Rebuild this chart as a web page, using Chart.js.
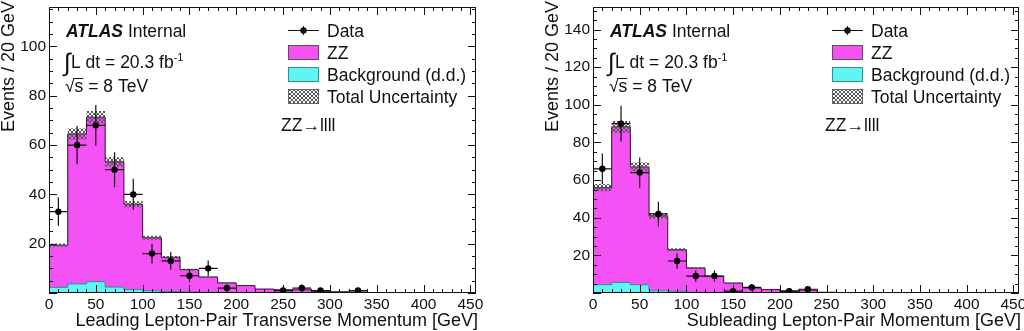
<!DOCTYPE html>
<html>
<head>
<meta charset="utf-8">
<script src="https://cdn.jsdelivr.net/npm/chart.js@4.4.1/dist/chart.umd.min.js"></script>
<style>
  html, body { margin: 0; padding: 0; background: #fff; }
  #wrap { position: relative; width: 1024px; height: 331px; }
  canvas { position: absolute; top: 0; }
</style>
</head>
<body>
<div id="wrap">
  <canvas id="leadChart" width="512" height="331" style="left:0"></canvas>
  <canvas id="subChart" width="512" height="331" style="left:512px"></canvas>
</div>
<script>
// 20 GeV bins
var binEdges = [0, 20, 40, 60, 80, 100, 120, 140, 160, 180, 200, 220, 240, 260, 280, 300, 320, 340, 360];
var binCenters = [10, 30, 50, 70, 90, 110, 130, 150, 170, 190, 210, 230, 250, 270, 290, 310, 330, 350];

// leading lepton-pair pT
var leadZZ   = [17.1, 60.8, 66.7, 50.8, 34.6, 21.5, 13.9, 9.1, 6.2, 3.9, 2.9, 1.5, 1.3, 1.3, 0.7, 0.5, 0.4, 0];
var leadBkg  = [2.3, 3.7, 4.6, 2.4, 1.4, 0.9, 0.6, 0.4, 0.3, 0.2, 0.1, 0.1, 0, 0, 0, 0, 0, 0];
var leadData = [33, 60, 68, 50, 40, 16, 13, 7, 10, 2, 0, 0, 1, 2, 1, 0, 1, 0];

// subleading lepton-pair pT
var subZZ   = [51.6, 82.7, 62.6, 39.8, 22.1, 12.9, 8.6, 5.1, 2.6, 1.7, 1.1, 1.5, 0.4, 0, 0, 0, 0, 0];
var subBkg  = [4.4, 5.6, 4.4, 1.2, 0.9, 0.4, 0.3, 0.2, 0.1, 0.1, 0, 0, 0, 0, 0, 0, 0, 0];
var subData = [66, 90, 64, 42, 17, 9, 9, 1, 3, 0, 1, 2, 0, 0, 0, 0, 0, 0];

var relUncert = 0.035;   // total uncertainty on the prediction

var xTickLabels = [0, 50, 100, 150, 200, 250, 300, 350, 400, 450];
var leadYTicks = [20, 40, 60, 80, 100];
var subYTicks = [20, 40, 60, 80, 100, 120, 140];

var FONT = "'Liberation Sans', Arial, Helvetica, sans-serif";
var PINK = '#f552f5';
var CYAN = '#62f4f4';

Chart.defaults.font.family = FONT;
Chart.defaults.color = '#111';

function makeHatch() {
  var c = document.createElement('canvas');
  c.width = 4; c.height = 4;
  var g = c.getContext('2d');
  g.fillStyle = '#555';
  g.fillRect(0, 0, 1, 1); g.fillRect(1, 1, 1, 1); g.fillRect(2, 2, 1, 1); g.fillRect(3, 3, 1, 1);
  g.fillRect(3, 0, 1, 1); g.fillRect(2, 1, 1, 1); g.fillRect(1, 2, 1, 1); g.fillRect(0, 3, 1, 1);
  return g.createPattern(c, 'repeat');
}
var hatch = makeHatch();

function stepPoints(values) {
  var pts = values.map(function (v, i) { return { x: binEdges[i], y: v }; });
  pts.push({ x: binEdges[values.length], y: 0 });
  return pts;
}

// error bars for the data points
var errorBars = {
  id: 'errorBars',
  beforeDatasetDraw: function (chart, args) {
    var ds = chart.data.datasets[args.index];
    if (!ds.isData) return;
    var ctx = chart.ctx, xs = chart.scales.x, ys = chart.scales.y, a = chart.chartArea;
    ctx.save();
    ctx.beginPath();
    ctx.rect(a.left, a.top, a.right - a.left, a.bottom - a.top);
    ctx.clip();
    ctx.strokeStyle = '#111';
    ctx.lineWidth = 1.2;
    ctx.beginPath();
    ds.data.forEach(function (p) {
      if (p.y === null) return;
      var err = Math.sqrt(p.y);
      var px = xs.getPixelForValue(p.x), py = ys.getPixelForValue(p.y);
      ctx.moveTo(xs.getPixelForValue(p.x - 10), py);
      ctx.lineTo(xs.getPixelForValue(p.x + 10), py);
      ctx.moveTo(px, ys.getPixelForValue(p.y - err));
      ctx.lineTo(px, ys.getPixelForValue(p.y + err));
    });
    ctx.stroke();
    ctx.restore();
  }
};

// ROOT-like frame, inner ticks, titles, legend and labels
var rootStyle = {
  id: 'rootStyle',
  afterDraw: function (chart, args, opts) {
    var ctx = chart.ctx, a = chart.chartArea, xs = chart.scales.x, ys = chart.scales.y;
    ctx.save();
    ctx.strokeStyle = '#111';
    ctx.lineWidth = 1;
    ctx.beginPath();
    for (var v = 0; v <= xs.max; v += 10) {
      var px = Math.round(xs.getPixelForValue(v)) + 0.5;
      var len = v % 50 === 0 ? 8 : 4;
      ctx.moveTo(px, a.bottom); ctx.lineTo(px, a.bottom - len);
      ctx.moveTo(px, a.top); ctx.lineTo(px, a.top + len);
    }
    for (var w = 0; w <= ys.max; w += 5) {
      var py = Math.round(ys.getPixelForValue(w)) + 0.5;
      var ln = w % 20 === 0 ? 8 : 4;
      ctx.moveTo(a.left, py); ctx.lineTo(a.left + ln, py);
      ctx.moveTo(a.right, py); ctx.lineTo(a.right - ln, py);
    }
    ctx.stroke();
    ctx.strokeRect(a.left + 0.5, a.top + 0.5, a.right - a.left - 1, a.bottom - a.top - 1);

    ctx.fillStyle = '#111';
    ctx.textBaseline = 'alphabetic';

    // axis titles
    ctx.font = '18px ' + FONT;
    ctx.textAlign = 'right';
    ctx.fillText(opts.xTitle, a.right + 2, 326);
    ctx.save();
    ctx.translate(a.left - 35, 1);
    ctx.rotate(-Math.PI / 2);
    ctx.fillText(opts.yTitle, 0, 0);
    ctx.restore();

    // ATLAS label
    ctx.textAlign = 'left';
    var lx = a.left + 17;
    ctx.font = 'italic bold 17.5px ' + FONT;
    ctx.fillText('ATLAS', lx, 37);
    var wA = ctx.measureText('ATLAS ').width;
    ctx.font = '17.5px ' + FONT;
    ctx.fillText('Internal', lx + wA, 37);

    ctx.font = '25px ' + FONT;
    ctx.fillText('\u222B', lx - 2, 71);
    ctx.font = '17.5px ' + FONT;
    var lumi = 'L dt = 20.3 fb';
    ctx.fillText(lumi, lx + 5, 68);
    var wL = ctx.measureText(lumi).width;
    ctx.font = '11px ' + FONT;
    ctx.fillText('-1', lx + 5 + wL, 61);

    ctx.font = '17.5px ' + FONT;
    ctx.fillText('\u221A', lx - 1, 92);
    var wR = ctx.measureText('\u221A').width;
    ctx.fillText('s = 8 TeV', lx - 1 + wR, 92);
    ctx.beginPath();
    ctx.moveTo(lx - 1 + wR - 1, 78.5);
    ctx.lineTo(lx - 1 + wR + ctx.measureText('s').width, 78.5);
    ctx.stroke();

    // legend
    var bx = a.left + 239, bw = 31, tx = a.left + 278;
    var ds = chart.data.datasets;
    ctx.beginPath();
    ctx.moveTo(bx, 30.5); ctx.lineTo(bx + bw, 30.5);
    ctx.moveTo(bx + bw / 2, 26); ctx.lineTo(bx + bw / 2, 35);
    ctx.stroke();
    ctx.beginPath();
    ctx.arc(bx + bw / 2, 30.5, 3.2, 0, Math.PI * 2);
    ctx.fill();

    var boxes = [
      { fill: ds[0].backgroundColor, edge: '#555', y: 45 },
      { fill: ds[1].backgroundColor, edge: '#2f8f8f', y: 67 },
      { fill: ds[3].backgroundColor, edge: '#666', y: 89 }
    ];
    boxes.forEach(function (b) {
      ctx.fillStyle = b.fill;
      ctx.fillRect(bx, b.y, bw, 15);
      ctx.strokeStyle = b.edge;
      ctx.strokeRect(bx + 0.5, b.y + 0.5, bw - 1, 14);
    });
    ctx.fillStyle = '#111';
    ctx.font = '17.5px ' + FONT;
    ctx.fillText('Data', tx, 36.5);
    ctx.fillText('ZZ', tx, 58.5);
    ctx.fillText('Background (d.d.)', tx, 80.5);
    ctx.fillText('Total Uncertainty', tx, 102.5);
    ctx.fillText('ZZ\u2192llll', a.left + 232, 131);
    ctx.restore();
  }
};

function makePanel(id, zz, bkg, data, yMax, yTicks, xTitle, yWidth, rightPad) {
  var total = zz.map(function (v, i) { return v + bkg[i]; });
  var low = total.map(function (v) { return v * (1 - relUncert); });
  var high = total.map(function (v) { return v * (1 + relUncert); });
  var points = data.map(function (n, i) { return { x: binCenters[i], y: n > 0 ? n : null }; });

  return new Chart(document.getElementById(id).getContext('2d'), {
    type: 'line',
    data: {
      datasets: [
        { label: 'ZZ', data: stepPoints(total), stepped: true, fill: 'origin',
          backgroundColor: PINK, borderColor: '#2a102a', borderWidth: 1, pointRadius: 0, order: 5 },
        { label: 'Background (d.d.)', data: stepPoints(bkg), stepped: true, fill: 'origin',
          backgroundColor: CYAN, borderColor: '#2f8f8f', borderWidth: 1, pointRadius: 0, order: 4 },
        { label: 'unc low', data: stepPoints(low), stepped: true, fill: false,
          borderWidth: 0, borderColor: 'rgba(0,0,0,0)', pointRadius: 0, order: 3 },
        { label: 'Total Uncertainty', data: stepPoints(high), stepped: true, fill: 2,
          backgroundColor: hatch, borderWidth: 0, borderColor: 'rgba(0,0,0,0)', pointRadius: 0, order: 2 },
        { label: 'Data', data: points, isData: true, showLine: false,
          pointRadius: 3.2, pointBackgroundColor: '#000', pointBorderWidth: 0, order: 1 }
      ]
    },
    options: {
      responsive: false,
      animation: false,
      devicePixelRatio: 1,
      layout: { padding: { left: 0, right: rightPad, top: 7, bottom: 0 } },
      plugins: {
        legend: { display: false },
        tooltip: { enabled: false },
        rootStyle: { xTitle: xTitle, yTitle: 'Events / 20 GeV' }
      },
      scales: {
        x: {
          type: 'linear', min: 0, max: 456,
          grid: { display: false, drawTicks: false }, border: { display: false },
          ticks: { font: { size: 15.5 }, color: '#111', padding: 2, maxRotation: 0, autoSkip: false,
                   callback: function (v) { return String(v); } },
          afterBuildTicks: function (s) { s.ticks = xTickLabels.map(function (v) { return { value: v }; }); },
          afterFit: function (s) { s.height = 38; s.paddingLeft = 0; s.paddingRight = 0; }
        },
        y: {
          type: 'linear', min: 0, max: yMax,
          grid: { display: false, drawTicks: false }, border: { display: false },
          ticks: { font: { size: 15.5 }, color: '#111', padding: 3, autoSkip: false,
                   callback: function (v) { return String(v); } },
          afterBuildTicks: function (s) { s.ticks = yTicks.map(function (v) { return { value: v }; }); },
          afterFit: function (s) { s.width = yWidth; s.paddingTop = 0; s.paddingBottom = 0; }
        }
      }
    },
    plugins: [errorBars, rootStyle]
  });
}

makePanel('leadChart', leadZZ, leadBkg, leadData, 116, leadYTicks,
  'Leading Lepton-Pair Transverse Momentum [GeV]', 49, 36);
makePanel('subChart', subZZ, subBkg, subData, 152, subYTicks,
  'Subleading Lepton-Pair Momentum [GeV]', 81, 5);
</script>
</body>
</html>
